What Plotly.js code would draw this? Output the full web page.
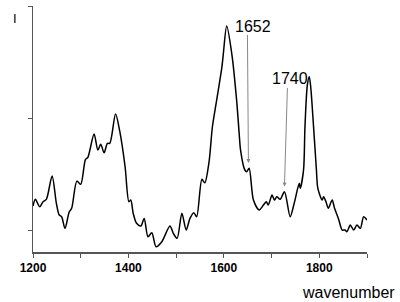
<!DOCTYPE html>
<html>
<head>
<meta charset="utf-8">
<script src="https://cdn.plot.ly/plotly-3.0.1.min.js"></script>
<style>html,body{margin:0;padding:0;background:#fff;}#chart{width:400px;height:302px;}</style>
</head>
<body>
<div id="chart"></div>
<script>
const wavenumber = [1200,1205,1214,1221,1228,1240,1249,1255,1260,1267,1276,1281,1292,1300,1310,1315,1328,1336,1342,1349,1356,1361,1373,1382,1393,1401,1405,1410,1417,1426,1433,1441,1449,1458,1470,1487,1494,1502,1512,1521,1529,1537,1543,1554,1560,1569,1576,1585,1596,1599,1606,1617,1627,1632,1635,1644,1648,1653,1662,1674,1683,1689,1693,1701,1706,1711,1718,1727,1739,1747,1758,1760,1767,1770,1775,1779,1782,1788,1794,1797,1806,1809,1814,1819,1827,1832,1840,1848,1854,1858,1865,1872,1879,1886,1893,1900];
const intensity = [0.214,0.274,0.208,0.253,0.274,0.482,0.238,0.134,0.119,0.015,0.163,0.194,0.437,0.408,0.631,0.649,0.857,0.714,0.765,0.690,0.774,0.774,1.036,0.878,0.565,0.253,0.268,0.149,0.060,0.036,0.104,-0.060,-0.024,-0.149,-0.104,0.036,-0.029,-0.074,0.149,0.0,0.104,0.155,0.119,0.453,0.422,0.610,0.922,1.161,1.458,1.578,1.821,1.562,1.146,0.866,0.714,0.536,0.521,0.551,0.268,0.179,0.223,0.253,0.223,0.312,0.268,0.297,0.274,0.342,0.119,0.232,0.417,0.372,0.536,0.922,1.295,1.369,1.279,0.922,0.536,0.372,0.268,0.297,0.253,0.194,0.268,0.194,0.104,0.0,0.0,-0.015,0.045,0.0,0.045,0.015,0.119,0.089];
const xTickVals = [1200,1300,1400,1500,1600,1700,1800,1900];
const xTickText = ['1200','','1400','','1600','','1800',''];
const yTickVals = [0,1,2];
const peakLabels = ['1652','1740'];
const labelX = [1661,1738];
const labelY = [1.821,1.357];
const arrowTipX = [1651.5,1727];
const arrowTipY = [0.598,0.388];
const arrowTailX = [1649.4,1733.3];
const arrowTailY = [1.759,1.286];

const annotations = [];
for (let i = 0; i < peakLabels.length; i++) {
  annotations.push({x: labelX[i], y: labelY[i], xref:'x', yref:'y', text: peakLabels[i], showarrow:false,
    font:{family:'Liberation Sans, Arial, sans-serif', size:16, color:'#000'}});
  annotations.push({x: arrowTipX[i], y: arrowTipY[i], xref:'x', yref:'y', ax: arrowTailX[i], ay: arrowTailY[i],
    axref:'x', ayref:'y', text:' ', font:{size:1}, showarrow:true, arrowhead:2, arrowsize:0.8, arrowwidth:1,
    arrowcolor:'#888', standoff:0});
}
annotations.push({xref:'paper', yref:'paper', x:-0.055, y:0.95, xanchor:'center', yanchor:'middle', text:'I', showarrow:false,
  font:{family:'Liberation Sans, Arial, sans-serif', size:13, color:'#000'}});
annotations.push({xref:'paper', yref:'paper', x:1.09, y:-0.165, xanchor:'right', yanchor:'middle', text:'wavenumber', showarrow:false,
  font:{family:'Liberation Sans, Arial, sans-serif', size:16, color:'#000'}});

const trace = {x: wavenumber, y: intensity, type:'scatter', mode:'lines',
  line:{color:'#000', width:1.5, shape:'spline', smoothing:0.8}, hoverinfo:'skip'};

const layout = {
  width:400, height:302,
  margin:{l:33, r:33, t:6, b:50, pad:0},
  paper_bgcolor:'#fff', plot_bgcolor:'#fff',
  showlegend:false,
  xaxis:{range:[1200,1900], tickvals:xTickVals, ticktext:xTickText, ticks:'outside', ticklen:4, tickwidth:1, tickcolor:'#555',
    showline:true, linecolor:'#555', linewidth:1.5, showgrid:false, zeroline:false,
    tickfont:{family:'Liberation Sans, Arial, sans-serif', size:12, color:'#000', weight:'bold'}},
  yaxis:{range:[-0.196,2.0], tickvals:yTickVals, showticklabels:false, ticks:'outside', ticklen:4, tickwidth:1, tickcolor:'#555',
    showline:true, linecolor:'#555', linewidth:1.5, showgrid:false, zeroline:false},
  annotations: annotations
};
Plotly.newPlot('chart', [trace], layout, {staticPlot:true, displayModeBar:false});
</script>
</body>
</html>
